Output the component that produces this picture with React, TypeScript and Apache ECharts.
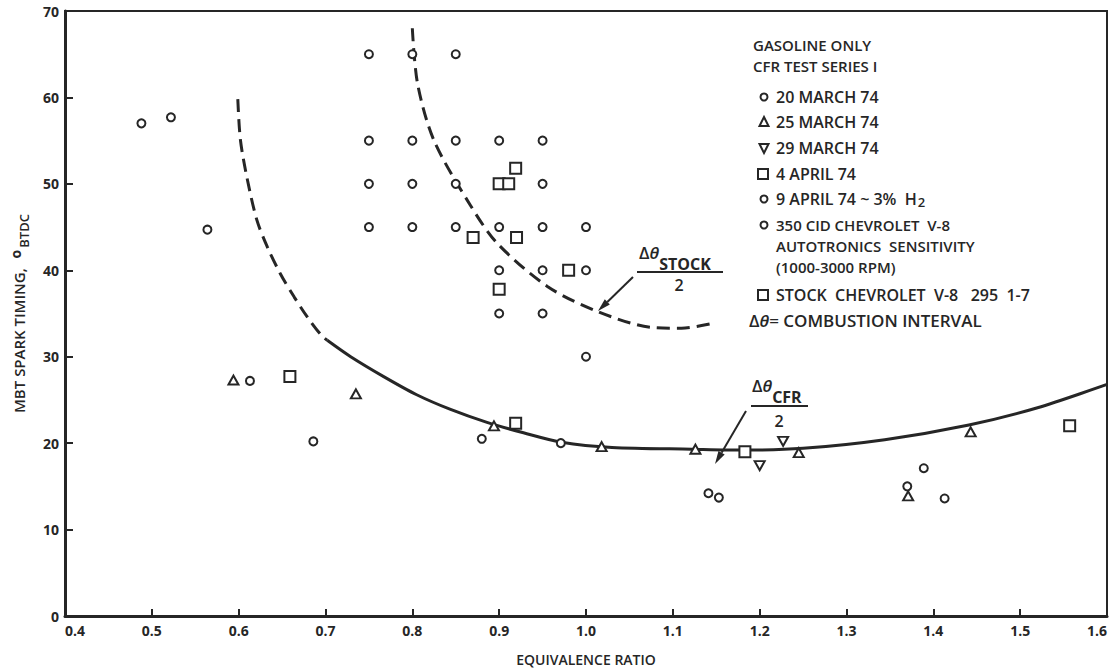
import React, { useEffect, useRef } from "react";
import * as echarts from "echarts";

// CFR test series I (gasoline only)
const march20: number[][] = [
  [0.613, 27.2], [0.686, 20.2], [0.880, 20.5], [0.971, 20.0], [1.141, 14.2], [1.153, 13.7],
];
const march25: number[][] = [
  [0.594, 27.3], [0.735, 25.7], [0.894, 22.0], [1.018, 19.6], [1.126, 19.3], [1.245, 18.9],
  [1.371, 13.9], [1.443, 21.3],
];
const march29: number[][] = [[1.200, 17.4], [1.227, 20.2]];
const april4: number[][] = [[0.659, 27.7], [0.919, 22.3], [1.183, 19.0], [1.557, 22.0]];
const april9H2: number[][] = [
  [0.488, 57.0], [0.522, 57.7], [0.564, 44.7], [1.370, 15.0], [1.389, 17.1], [1.413, 13.6],
];

// 350 CID Chevrolet V-8, autotronics sensitivity (1000-3000 rpm)
const autotronics: number[][] = [
  [0.75, 65], [0.80, 65], [0.85, 65],
  [0.75, 55], [0.80, 55], [0.85, 55], [0.90, 55], [0.95, 55],
  [0.75, 50], [0.80, 50], [0.85, 50], [0.95, 50],
  [0.75, 45], [0.80, 45], [0.85, 45], [0.90, 45], [0.95, 45], [1.00, 45],
  [0.90, 40], [0.95, 40], [1.00, 40],
  [0.90, 35], [0.95, 35],
  [1.00, 30],
];

// Stock Chevrolet V-8 295 1-7
const stockV8: number[][] = [
  [0.870, 43.8], [0.900, 50.0], [0.911, 50.0], [0.919, 51.8], [0.920, 43.8], [0.980, 40.0],
  [0.900, 37.8],
];

// Combustion-interval curves
const cfrCurveDashed: number[][] = [
  [0.599, 59.8], [0.602, 55.1], [0.610, 50.5], [0.621, 45.8], [0.633, 42.7], [0.648, 39.6],
  [0.664, 36.9], [0.679, 34.6], [0.695, 32.5], [0.702, 31.9],
];
const cfrCurveSolid: number[][] = [
  [0.702, 31.9], [0.729, 30.0], [0.767, 27.7], [0.805, 25.6], [0.844, 23.9], [0.886, 22.4],
  [0.928, 21.2], [0.972, 20.1], [1.030, 19.5], [1.122, 19.3], [1.185, 19.2], [1.250, 19.4],
  [1.344, 20.4], [1.441, 22.1], [1.520, 24.1], [1.600, 26.8],
];
const stockCurve: number[][] = [
  [0.800, 68.0], [0.806, 61.6], [0.825, 55.0], [0.867, 47.5], [0.898, 43.1], [0.956, 38.1],
  [1.014, 35.2], [1.075, 33.4], [1.110, 33.3], [1.148, 33.9],
];

const legendHeader = ["GASOLINE ONLY", "CFR TEST SERIES I"];
const legendItems = [
  { symbol: "circle", lines: ["20 MARCH 74"] },
  { symbol: "triangle", lines: ["25 MARCH 74"] },
  { symbol: "down", lines: ["29 MARCH 74"] },
  { symbol: "square", lines: ["4 APRIL 74"] },
  { symbol: "circle", lines: ["9 APRIL 74 ~ 3%  H{sub|2}"] },
  { symbol: "circle", lines: ["350 CID CHEVROLET  V-8", "AUTOTRONICS  SENSITIVITY", "(1000-3000 RPM)"] },
  { symbol: "square", lines: ["STOCK  CHEVROLET  V-8   295  1-7"] },
];

const INK = "#262626";
const FONT = "'Open Sans', 'DejaVu Sans', sans-serif";

function arrow(x1: number, y1: number, x2: number, y2: number) {
  const dx = x2 - x1;
  const dy = y2 - y1;
  const len = Math.hypot(dx, dy);
  const ux = dx / len;
  const uy = dy / len;
  const head = 13;
  const half = 3.6;
  const bx = x2 - ux * head;
  const by = y2 - uy * head;
  return [
    { type: "line", shape: { x1, y1, x2: bx, y2: by }, style: { stroke: INK, lineWidth: 2 }, z: 10 },
    {
      type: "polygon",
      shape: { points: [[x2, y2], [bx - uy * half, by + ux * half], [bx + uy * half, by - ux * half]] },
      style: { fill: INK },
      z: 10,
    },
  ];
}

function legendMarker(symbol: string, cx: number, cy: number) {
  const style = { fill: "#fff", stroke: INK, lineWidth: 2 };
  if (symbol === "circle") return { type: "circle", z: 10, shape: { cx, cy, r: 3.5 }, style };
  if (symbol === "square")
    return { type: "rect", z: 10, shape: { x: cx - 5, y: cy - 5, width: 10, height: 10 }, style };
  if (symbol === "triangle")
    return { type: "polygon", z: 10, shape: { points: [[cx, cy - 5], [cx + 4.5, cy + 4], [cx - 4.5, cy + 4]] }, style };
  return { type: "polygon", z: 10, shape: { points: [[cx, cy + 5], [cx + 4.5, cy - 4], [cx - 4.5, cy - 4]] }, style };
}

function txt(text: string, x: number, y: number, extra: any = {}) {
  return {
    type: "text",
    z: 10,
    style: {
      text,
      x,
      y,
      fill: INK,
      fontFamily: FONT,
      fontSize: 15,
      fontWeight: 600,
      textVerticalAlign: "middle",
      ...extra,
    },
  };
}

function deltaLabel(sub: string, x: number, y: number) {
  // Δθ with a lowered subscript, centred vertically on y
  return txt(`Δ{th|θ}{sub|${sub}}`, x, y, {
    fontSize: 17,
    lineHeight: 40,
    rich: {
      th: { fontFamily: FONT, fontSize: 17, fontStyle: "italic", fontWeight: 600, fill: INK, lineHeight: 40 },
      sub: { fontFamily: FONT, fontSize: 16, fontWeight: 700, fill: INK, lineHeight: 16, verticalAlign: "bottom" },
    },
  });
}

function buildGraphic() {
  const g: any[] = [];

  g.push(txt(legendHeader[0], 753, 45, { lineHeight: 18 }));
  g.push(txt(legendHeader[1], 753, 66, { lineHeight: 18 }));

  const rows = [97, 122, 148, 174, 199, 225, 295];
  legendItems.forEach((it, i) => {
    const y = rows[i];
    const multi = it.lines.length > 1;
    g.push(legendMarker(it.symbol, it.symbol === "square" ? 763 : 764, y));
    it.lines.forEach((line, j) => {
      g.push(
        txt(line, 776, y + j * 21, {
          fontSize: multi ? 15 : 16,
          lineHeight: 18,
          rich: {
            sub: { fontFamily: FONT, fontSize: 13, fontWeight: 600, fill: INK, lineHeight: 13, verticalAlign: "bottom", padding: [0, 0, 0, 1] },
          },
        })
      );
    });
  });
  g.push(
    txt("Δ{th|θ}= COMBUSTION INTERVAL", 749, 320, {
      fontSize: 17,
      lineHeight: 20,
      rich: {
        th: { fontFamily: FONT, fontSize: 17, fontStyle: "italic", fontWeight: 600, fill: INK },
      },
    })
  );

  // Δθ_STOCK / 2
  g.push(deltaLabel("STOCK", 639, 252));
  g.push({ type: "line", shape: { x1: 637, y1: 272, x2: 723, y2: 272 }, style: { stroke: INK, lineWidth: 2 }, z: 10 });
  g.push(txt("2", 679, 285, { textAlign: "center", fontSize: 16 }));
  g.push(...arrow(633, 277, 598, 311));

  // Δθ_CFR / 2
  g.push(deltaLabel("CFR", 752, 385));
  g.push({ type: "line", shape: { x1: 751, y1: 406, x2: 808, y2: 406 }, style: { stroke: INK, lineWidth: 2 }, z: 10 });
  g.push(txt("2", 779, 421, { textAlign: "center", fontSize: 16 }));
  g.push(...arrow(746, 411, 715, 464));

  return g;
}

const markerStyle = { color: "#fff", borderColor: INK, borderWidth: 2, opacity: 1 };

function scatter(name: string, data: number[][], symbol: string, size: any, rotate = 0) {
  return {
    name,
    type: "scatter",
    data,
    symbol,
    symbolSize: size,
    symbolRotate: rotate,
    itemStyle: markerStyle,
    z: 5,
    silent: true,
  };
}

function curve(name: string, data: number[][], dashed: boolean) {
  return {
    name,
    type: "line",
    data,
    smooth: 0.3,
    showSymbol: false,
    symbol: "none",
    lineStyle: { color: INK, width: 3, type: dashed ? [13, 7] : "solid", cap: "butt", opacity: 1 },
    z: 3,
    silent: true,
  };
}

export default function App() {
  const ref = useRef<HTMLDivElement>(null);

  useEffect(() => {
    if (!ref.current) return;
    const chart = echarts.init(ref.current, undefined, { renderer: "svg" });
    chart.setOption({
      animation: false,
      backgroundColor: "#ffffff",
      grid: {
        left: 64,
        right: 6,
        top: 11,
        bottom: 54,
        show: true,
        borderColor: INK,
        borderWidth: 2,
      },
      xAxis: {
        type: "value",
        min: 0.4,
        max: 1.6,
        interval: 0.1,
        name: "EQUIVALENCE RATIO",
        nameLocation: "middle",
        nameGap: 36,
        nameTextStyle: { color: INK, fontFamily: FONT, fontSize: 14, fontWeight: 600 },
        axisLine: { show: true, lineStyle: { color: INK, width: 3 } },
        axisTick: { show: true, inside: true, length: 7, lineStyle: { color: INK, width: 2 } },
        axisLabel: {
          color: INK,
          fontFamily: FONT,
          fontSize: 14,
          fontWeight: 700,
          margin: 7,
          alignMinLabel: "left",
          alignMaxLabel: "right",
          formatter: (v: number) => v.toFixed(1),
        },
        splitLine: { show: false },
      },
      yAxis: {
        type: "value",
        min: 0,
        max: 70,
        interval: 10,
        name: "MBT SPARK TIMING, {sup|o}{sub|BTDC}",
        nameLocation: "middle",
        nameGap: 35,
        nameTextStyle: {
          color: INK,
          fontFamily: FONT,
          fontSize: 15,
          fontWeight: 600,
          lineHeight: 22,
          rich: {
            sup: { fontFamily: FONT, fontSize: 14, fontWeight: 700, color: INK, lineHeight: 14, verticalAlign: "top", padding: [0, 2, 0, 6] },
            sub: { fontFamily: FONT, fontSize: 13, fontWeight: 600, color: INK, lineHeight: 14, verticalAlign: "bottom" },
          },
        },
        axisLine: { show: true, lineStyle: { color: INK, width: 3 } },
        axisTick: { show: true, inside: true, length: 8, lineStyle: { color: INK, width: 2 } },
        axisLabel: { color: INK, fontFamily: FONT, fontSize: 14, fontWeight: 700, margin: 6 },
        splitLine: { show: false },
      },
      series: [
        curve("CFR curve (extrapolated)", cfrCurveDashed, true),
        curve("CFR curve", cfrCurveSolid, false),
        curve("Stock curve", stockCurve, true),
        scatter("20 MARCH 74", march20, "circle", 8),
        scatter("25 MARCH 74", march25, "triangle", [10, 9]),
        scatter("29 MARCH 74", march29, "triangle", [10, 9], 180),
        scatter("4 APRIL 74", april4, "rect", 11),
        scatter("9 APRIL 74 ~ 3% H2", april9H2, "circle", 8),
        scatter("350 CID CHEVROLET V-8", autotronics, "circle", 8),
        scatter("STOCK CHEVROLET V-8", stockV8, "rect", 11),
      ],
      graphic: buildGraphic(),
    });
    return () => chart.dispose();
  }, []);

  return (
    <div
      ref={ref}
      style={{ position: "fixed", left: 0, top: 0, width: 1113, height: 671, background: "#fff" }}
    />
  );
}
